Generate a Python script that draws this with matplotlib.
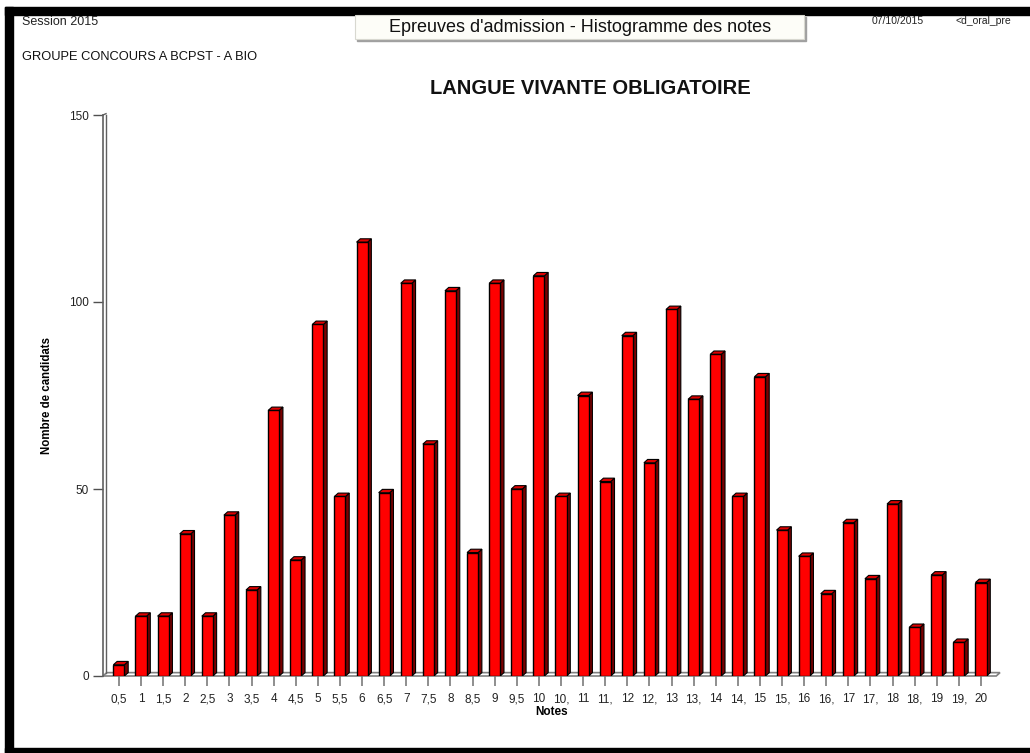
import matplotlib
matplotlib.use("Agg")
import matplotlib.pyplot as plt
from matplotlib.patches import Rectangle, Polygon
from matplotlib.lines import Line2D

plt.rcParams['font.family'] = ['Liberation Sans', 'DejaVu Sans']

# ---- data ----
tick_labels = ["0,5", "1", "1,5", "2", "2,5", "3", "3,5", "4", "4,5", "5",
               "5,5", "6", "6,5", "7", "7,5", "8", "8,5", "9", "9,5", "10",
               "10,", "11", "11,", "12", "12,", "13", "13,", "14", "14,", "15",
               "15,", "16", "16,", "17", "17,", "18", "18,", "19", "19,", "20"]
counts = [3, 16, 16, 38, 16, 43, 23, 71, 31, 94,
          48, 116, 49, 105, 62, 103, 33, 105, 50, 107,
          48, 75, 52, 91, 57, 98, 74, 86, 48, 80,
          39, 32, 22, 41, 26, 46, 13, 27, 9, 25]
y_ticks = [0, 50, 100, 150]

W, H = 1030, 753
fig = plt.figure(figsize=(W / 100, H / 100), dpi=100)
fig.patch.set_facecolor('white')

def fx(px):
    return px / W

def fy(py):
    return 1 - py / H

# ---- frame ----
fig.patches.append(Rectangle((fx(5), fy(15)), fx(1030) - fx(5), fy(7) - fy(15),
                             transform=fig.transFigure, color='black', zorder=0))
fig.patches.append(Rectangle((fx(5), fy(753)), fx(13) - fx(5), fy(7) - fy(753),
                             transform=fig.transFigure, color='black', zorder=0))
fig.patches.append(Rectangle((fx(5), fy(753)), fx(1030) - fx(5), fy(748) - fy(753),
                             transform=fig.transFigure, color='black', zorder=0))

# header box with 3D shadow
fig.patches.append(Rectangle((fx(357), fy(41)), fx(806) - fx(357), fy(17) - fy(41),
                             transform=fig.transFigure, color='#a0a0a0', zorder=1))
fig.patches.append(Rectangle((fx(355), fy(39)), fx(804) - fx(355), fy(15) - fy(39),
                             transform=fig.transFigure, facecolor='#fdfdf8',
                             edgecolor='#d8d8d0', linewidth=0.8, zorder=2))
fig.text(fx(580), fy(27), "Epreuves d'admission - Histogramme des notes",
         ha='center', va='center', fontsize=13, color='#111111', zorder=3)

fig.text(fx(22), fy(22), "Session 2015", ha='left', va='center', fontsize=9, color='#222222')
fig.text(fx(872), fy(21), "07/10/2015", ha='left', va='center', fontsize=7.5, color='#222222')
fig.text(fx(955), fy(21), "<d_oral_pre", ha='left', va='center', fontsize=7.5, color='#222222')
fig.text(fx(22), fy(57), "GROUPE CONCOURS A BCPST - A BIO", ha='left', va='center',
         fontsize=9.3, color='#111111')
fig.text(fx(590), fy(88), "LANGUE VIVANTE OBLIGATOIRE", ha='center', va='center',
         fontsize=14.5, fontweight='bold', color='#111111')

# ---- axes ----
x0px, x1px, ytop, ybot = 103, 1000, 115, 676
ax = fig.add_axes([fx(x0px), fy(ybot), fx(x1px) - fx(x0px), fy(ytop) - fy(ybot)])
ax.set_facecolor('none')
n = len(counts)
xs = list(range(n))
xmin, xmax = -0.72, 39.86
ax.set_xlim(xmin, xmax)
ax.set_ylim(0, 150)

w = 0.5
dx = 0.17
dy = 0.9

# floor
floor = Polygon([(xmin, 0), (xmax - dx, 0), (xmax, dy), (xmin + dx, dy)],
                closed=True, facecolor='white', edgecolor='#808080', linewidth=1.2,
                zorder=1, clip_on=False)
ax.add_patch(floor)

# bars (front faces) + 3D sides/tops
ax.bar(xs, counts, width=w, color='#ff0000', edgecolor='black', linewidth=1.0, zorder=3)
for x, v in zip(xs, counts):
    side = Polygon([(x + w / 2, 0), (x + w / 2 + dx, dy), (x + w / 2 + dx, v + dy), (x + w / 2, v)],
                   closed=True, facecolor='#7a0000', edgecolor='black', linewidth=0.8, zorder=2)
    top = Polygon([(x - w / 2, v), (x - w / 2 + dx, v + dy), (x + w / 2 + dx, v + dy), (x + w / 2, v)],
                  closed=True, facecolor='#e00000', edgecolor='black', linewidth=0.8, zorder=2)
    ax.add_patch(side)
    ax.add_patch(top)

# wall (double y axis line)
for s in ['top', 'right', 'bottom']:
    ax.spines[s].set_visible(False)
ax.spines['left'].set_color('#606060')
ax.spines['left'].set_linewidth(1.2)
ax.add_line(Line2D([xmin + dx * 0.8, xmin + dx * 0.8], [dy, 150], color='#606060',
                   linewidth=1.0, zorder=1, clip_on=False))
ax.add_line(Line2D([xmin, xmin + dx * 0.8], [150, 150 + dy * 0.4], color='#606060',
                   linewidth=1.0, zorder=1, clip_on=False))

ax.set_xticks(xs)
ax.set_xticklabels(tick_labels, fontsize=8.5, color='#222222')
ax.tick_params(axis='x', direction='inout', length=14.5, width=1.1, color='#707070', pad=5)
ax.set_yticks(y_ticks)
ax.set_yticklabels([str(t) for t in y_ticks], fontsize=8.5, color='#222222')
ax.tick_params(axis='y', direction='out', length=7, width=1.0, color='#505050', pad=3)
for t in ax.xaxis.get_major_ticks():
    t.tick1line.set_zorder(5)

ax.set_xlabel("Notes", fontsize=8.5, fontweight='bold', labelpad=1)
ax.set_ylabel("Nombre de candidats", fontsize=8.3, fontweight='bold', labelpad=12)

fig.savefig("out.png", dpi=100)
